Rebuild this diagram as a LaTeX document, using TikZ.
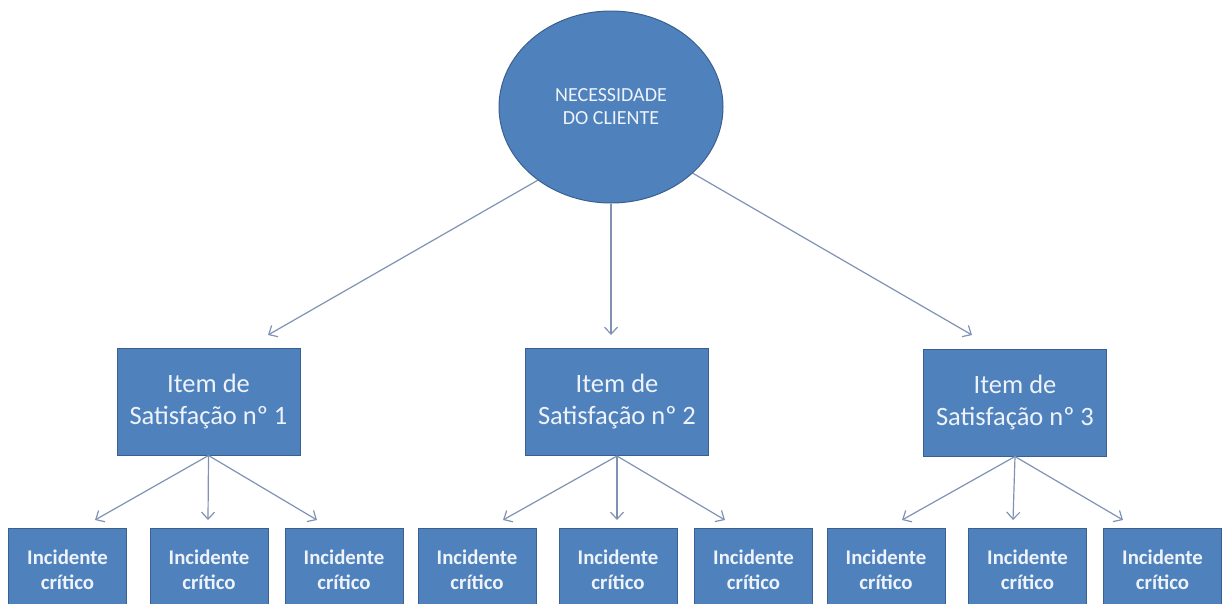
\documentclass[tikz,border=0pt]{standalone}
\usepackage{fontspec}
\setmainfont{Carlito}
\usetikzlibrary{shapes.geometric,arrows.meta}
\definecolor{boxfill}{HTML}{4F81BD}
\definecolor{boxline}{HTML}{3A6090}
\definecolor{linkcol}{HTML}{8092B4}
\definecolor{labelcol}{HTML}{EEF3FA}
\begin{document}
\begin{tikzpicture}[x=1pt,y=-1pt,
  shapebase/.style={fill=boxfill, draw=boxline, line width=1pt, text=labelcol, align=center, inner sep=0pt},
  need/.style={shapebase, ellipse, minimum width=224pt, minimum height=192pt,
    font=\fontsize{20}{23}\selectfont},
  itembox/.style={shapebase, rectangle, minimum width=183pt, minimum height=107pt,
    font=\fontsize{26.5}{32}\selectfont},
  incbox/.style={shapebase, rectangle, minimum width=118pt, minimum height=84pt,
    font=\bfseries\fontsize{20.8}{25}\selectfont},
  link/.style={draw=linkcol, line width=1.2pt, -{Straight Barb[length=7pt,width=13pt]}}]
\useasboundingbox (0,0) rectangle (1222,603);
\clip (0,0) rectangle (1222,603);

% top level
\node[need] (nec) at (611,107) {NECESSIDADE\\DO CLIENTE};

% satisfaction items
\node[itembox] (it1) at (208.5,401.5) {Item de\\Satisfação nº 1};
\node[itembox] (it2) at (617,402) {Item de\\Satisfação nº 2};
\node[itembox] (it3) at (1015,402.5) {Item de\\Satisfação nº 3};

% critical incidents
\node[incbox] (c11) at (67.5,570) {Incidente\\crítico};
\node[incbox] (c12) at (209,570) {Incidente\\crítico};
\node[incbox] (c13) at (344,570) {Incidente\\crítico};
\node[incbox] (c21) at (477,570) {Incidente\\crítico};
\node[incbox] (c22) at (618,570) {Incidente\\crítico};
\node[incbox] (c23) at (753.5,570) {Incidente\\crítico};
\node[incbox] (c31) at (886,570) {Incidente\\crítico};
\node[incbox] (c32) at (1027.5,570) {Incidente\\crítico};
\node[incbox] (c33) at (1162.5,570) {Incidente\\crítico};

% arrow tips
\coordinate (t1) at (268,335);
\coordinate (t2) at (611,335);
\coordinate (t3) at (972,335);
\coordinate (u11) at (95,520);
\coordinate (u12) at (208,520);
\coordinate (u13) at (317,520);
\coordinate (u21) at (503,520);
\coordinate (u22) at (617,520);
\coordinate (u23) at (725,520);
\coordinate (u31) at (902,520);
\coordinate (u32) at (1013,520);
\coordinate (u33) at (1123,520);

% connectors
\draw[link] (nec.-135) -- (t1);
\draw[link] (nec.south) -- (t2);
\draw[link] (nec.-39) -- (t3);
\foreach \i in {1,2,3}{
  \foreach \j in {1,2,3}{
    \draw[link] (it\i.south) -- (u\i\j);
  }
}
\end{tikzpicture}
\end{document}
